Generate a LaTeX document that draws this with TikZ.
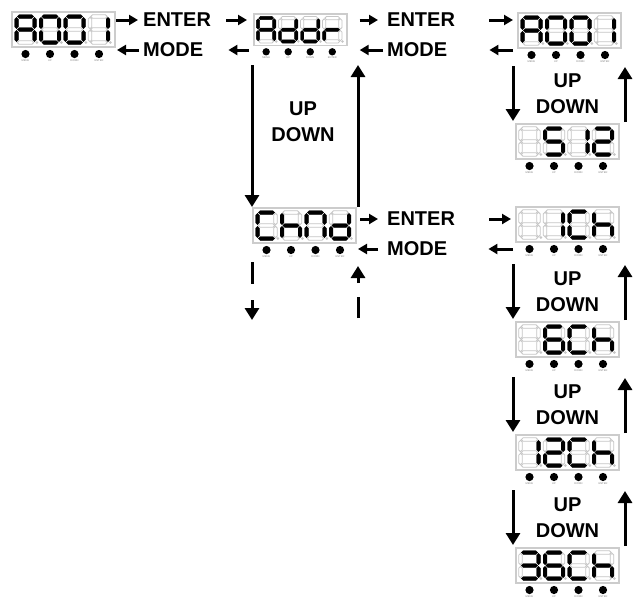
\documentclass[tikz,border=0pt]{standalone}
\usepackage{fontspec}
\setmainfont{Liberation Sans}
\usetikzlibrary{arrows.meta,positioning}

% one 7-segment digit: #1 = x offset in the panel, #2 = lit segments
\makeatletter
\newcommand\segdigit[2]{%
  \foreach \s/\ax/\ay/\bx/\by/\sg in {a/2.3/1.5/18.7/1.5/1, b/19.5/2.3/19.5/13.7/-1,
      c/19.5/15.3/19.5/26.7/-1, d/2.3/27.5/18.7/27.5/1, e/1.5/15.3/1.5/26.7/-1,
      f/1.5/2.3/1.5/13.7/-1, g/2.3/14.5/18.7/14.5/1}{
    \edef\seglist{\noexpand\in@{\s}{#2}}\seglist
    \ifin@\def\segsty{segon}\else\def\segsty{segoff}\fi
    \draw[\segsty] (#1+\ax,3+\ay) -- ++(1.8,1.8) -- (#1+\bx-\sg*1.8,3+\by+\sg*1.8)
      -- (#1+\bx,3+\by) -- ++(-1.8,-1.8) -- (#1+\ax+\sg*1.8,3+\ay-\sg*1.8) -- cycle;
  }
  \draw[segoff] (#1+21.8,30.5) circle (0.9);
}
\makeatother

% panel with four digits and four keys: name, position, scale, digits
\newcommand\panel[7]{%
  \node[panel, minimum width=#3*103pt, minimum height=#3*35pt] (#1) at #2 {};
  \begin{scope}[shift={(#1.north west)}, scale=#3]
    \segdigit{3}{#4}\segdigit{27.5}{#5}\segdigit{52}{#6}\segdigit{76.5}{#7}
    \foreach \k/\key in {0/MENU,1/UP,2/DOWN,3/ENTER}{
      \fill (13.5+24.5*\k,42) circle (4.1);
      \node[keylab] at (13.5+24.5*\k,48.8) {\key};
    }
  \end{scope}}

\begin{document}
\begin{tikzpicture}[x=1pt, y=-1pt,
    panel/.style={draw=gray!40, line width=1.6pt, fill=white, anchor=north west, inner sep=0pt, outer sep=0pt},
    segon/.style={draw=black, fill=black, line width=0.4pt},
    segoff/.style={draw=gray!45, fill=white, line width=0.8pt},
    keylab/.style={font=\fontsize{2.6}{3}\selectfont, text=gray, inner sep=0pt},
    lbl/.style={font=\fontsize{20}{26}\selectfont\bfseries, inner sep=0pt, anchor=west},
    ud/.style={font=\fontsize{20}{26}\selectfont\bfseries, inner sep=0pt, align=center},
    harr/.style={-{Triangle[length=9pt,width=10pt]}, line width=3pt},
    varr/.style={-{Triangle[length=12pt,width=14pt]}, line width=3pt}]
    \useasboundingbox (0,0) rectangle (637,598);
    % panels
    \panel{a001}{(12,12)}{1}{abcefg}{abcdef}{abcdef}{bc}
    \panel{addr}{(254,14)}{0.9}{abcefg}{bcdeg}{bcdeg}{eg}
    \panel{a001b}{(518,13)}{1}{abcefg}{abcdef}{abcdef}{bc}
    \panel{s12}{(516,124)}{1}{}{acdfg}{bc}{abdeg}
    \panel{chnd}{(253,208)}{1}{adef}{cefg}{abcef}{bcdeg}
    \panel{ch1}{(516,207)}{1}{}{bc}{adef}{cefg}
    \panel{ch6}{(516,322)}{1}{}{acdefg}{adef}{cefg}
    \panel{ch12}{(516,435)}{1}{bc}{abdeg}{adef}{cefg}
    \panel{ch36}{(516,548)}{1}{abcdg}{acdefg}{adef}{cefg}
    % key names
    \node[lbl] (ent1) at (143,20) {ENTER};
    \node[lbl] (mod1) at (143,50) {MODE};
    \node[lbl] (ent2) at (387,20) {ENTER};
    \node[lbl] (mod2) at (387,50) {MODE};
    \node[lbl] (ent3) at (387,219) {ENTER};
    \node[lbl] (mod3) at (387,249) {MODE};
    \node[ud] (ud0) at (303,122) {UP\\DOWN};
    \foreach \v in {s12,ch6,ch12,ch36}
      \node[ud, above=10pt of \v] (ud\v) {UP\\DOWN};
    % top row
    \draw[harr, shorten <=1pt, shorten >=5pt] (a001.east |- ent1.west) -- (ent1.west);
    \draw[harr, shorten <=4pt, shorten >=2pt] (mod1.west) -- (mod1.west -| a001.east);
    \draw[harr, shorten <=15pt, shorten >=7pt] (ent1.east) -- (ent1.east -| addr.west);
    \draw[harr, shorten <=5pt, shorten >=25pt] (addr.west |- mod1.east) -- (mod1.east);
    \draw[harr, shorten <=13pt, shorten >=9pt] (addr.east |- ent2.west) -- (ent2.west);
    \draw[harr, shorten <=4pt, shorten >=13pt] (mod2.west) -- (mod2.west -| addr.east);
    \draw[harr, shorten <=34pt, shorten >=5pt] (ent2.east) -- (ent2.east -| a001b.west);
    \draw[harr, shorten <=5pt, shorten >=42pt] (a001b.west |- mod2.east) -- (mod2.east);
    % channel row
    \draw[harr, shorten <=4pt, shorten >=9pt] (chnd.east |- ent3.west) -- (ent3.west);
    \draw[harr, shorten <=9pt, shorten >=2pt] (mod3.west) -- (mod3.west -| chnd.east);
    \draw[harr, shorten <=34pt, shorten >=5pt] (ent3.east) -- (ent3.east -| ch1.west);
    \draw[harr, shorten <=3pt, shorten >=41pt] (ch1.west |- mod3.east) -- (mod3.east);
    % up and down
    \draw[varr] (chnd.north west) ++(-1,-143) -- ++(0,142);
    \draw[varr] (chnd.north east) ++(2,-1) -- ++(0,-142);
    \foreach \v in {s12,ch6,ch12,ch36}{
      \draw[varr] (\v.north west) ++(-3,-58) -- ++(0,55);
      \draw[varr] (\v.north east) ++(6,-2) -- ++(0,-55);
    }
    \draw[varr, dash pattern=on 22pt off 16pt] (chnd.south west) ++(-1,19) -- ++(0,58);
    \draw[varr, dash pattern=on 21pt off 14pt] (chnd.south east) ++(2,75) -- ++(0,-52);
\end{tikzpicture}
\end{document}
